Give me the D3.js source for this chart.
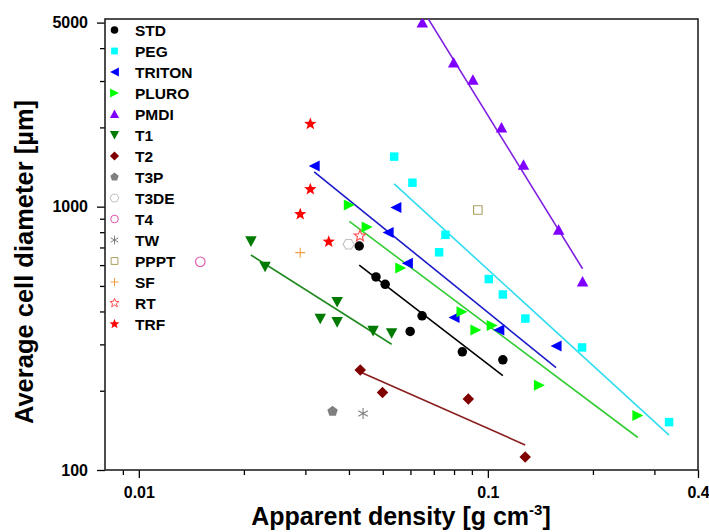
<!DOCTYPE html>
<html><head><meta charset="utf-8">
<script src="https://cdn.jsdelivr.net/npm/d3@7"></script>
<style>
body{margin:0;background:#fff}
svg{display:block}
text{font-family:"Liberation Sans",Arial,Helvetica,sans-serif;font-weight:bold;fill:#000}
</style>
</head><body>
<svg id="chart" width="709" height="532"></svg>
<script>
// ---------- data ----------
const stdX = [0.0428,0.0478,0.0508,0.0648,0.0599,0.0845,0.1104];
const stdY = [709,541,507,385,336,281,262];
const pegX = [0.0539,0.0608,0.0756,0.0725,0.1006,0.1104,0.1281,0.1861,0.3305];
const pegY = [1549,1233,782,671,531,464,376,292,152];
const tritonX = [0.0318,0.0545,0.0518,0.0588,0.0800,0.1075,0.1568];
const tritonY = [1428,993,798,610,379,340,296];
const pluroX = [0.0401,0.0451,0.0563,0.0843,0.0924,0.1029,0.1405,0.2690];
const pluroY = [1015,837,585,399,340,354,210,161];
const pmdiX = [0.0649,0.0798,0.0906,0.1094,0.1265,0.1595,0.1868];
const pmdiY = [4998,3523,3028,1995,1440,816,519];
const t1X = [0.02095,0.0230,0.0370,0.0331,0.0370,0.0469,0.0530];
const t1Y = [739,592,435,376,365,338,331];
const t2X = [0.0431,0.0499,0.0879,0.1279];
const t2Y = [240,197,186,112];
const t3pX = [0.0359];  const t3pY = [167];
const t3deX = [0.0399]; const t3deY = [720];
const t4X = [0.0150];   const t4Y = [618];
const twX = [0.0439];   const twY = [164];
const ppptX = [0.0936]; const ppptY = [971];
const sfX = [0.0290];   const sfY = [669];
const rtX = [0.0430];   const rtY = [774];
const trfX = [0.0310,0.0310,0.0290,0.0350];
const trfY = [2061,1164,936,736];

const seriesNames = ["STD","PEG","TRITON","PLURO","PMDI","T1","T2","T3P","T3DE","T4","TW","PPPT","SF","RT","TRF"];
const fittedSeries = ["STD","PEG","TRITON","PLURO","PMDI","T1","T2"];

const xMajorTicks = [0.01, 0.1, 0.4];
const xMinorTicks = [0.009,0.02,0.03,0.04,0.05,0.06,0.07,0.08,0.09,0.2,0.3];
const yMajorTicks = [100, 1000, 5000];
const yMinorTicks = [200,300,400,500,600,700,800,900,2000,3000,4000];
const xTickLabels = ["0.01","0.1","0.4"];
const yTickLabels = ["100","1000","5000"];

// ---------- custom marker shapes (size = nominal width in px) ----------
function poly(ctx, pts){ ctx.moveTo(pts[0][0],pts[0][1]); for(let i=1;i<pts.length;i++) ctx.lineTo(pts[i][0],pts[i][1]); ctx.closePath(); }
const shapes = {
  circle:{draw(c,s){const r=s/2;c.moveTo(r,0);c.arc(0,0,r,0,2*Math.PI);}},
  square:{draw(c,s){const h=s/2;poly(c,[[-h,-h],[h,-h],[h,h],[-h,h]]);}},
  triLeft:{draw(c,s){const h=s/2;poly(c,[[-h,0],[h,-h],[h,h]]);}},
  triRight:{draw(c,s){const h=s/2;poly(c,[[h,0],[-h,-h],[-h,h]]);}},
  triUp:{draw(c,s){const h=s/2;poly(c,[[0,-h],[h,h*0.85],[-h,h*0.85]]);}},
  triDown:{draw(c,s){const h=s/2;poly(c,[[0,h],[h,-h*0.85],[-h,-h*0.85]]);}},
  diamond:{draw(c,s){const h=s/2;poly(c,[[0,-h],[h,0],[0,h],[-h,0]]);}},
  pentagon:{draw(c,s){const r=s/2;const p=[];for(let i=0;i<5;i++){const a=-Math.PI/2+i*2*Math.PI/5;p.push([r*Math.cos(a),r*Math.sin(a)]);}poly(c,p);}},
  hexagon:{draw(c,s){const r=s/2;const p=[];for(let i=0;i<6;i++){const a=i*Math.PI/3;p.push([r*Math.cos(a),r*Math.sin(a)]);}poly(c,p);}},
  star:{draw(c,s){const R=s/2,r=R*0.42;const p=[];for(let i=0;i<10;i++){const a=-Math.PI/2+i*Math.PI/5;const q=i%2?r:R;p.push([q*Math.cos(a),q*Math.sin(a)]);}poly(c,p);}},
  plus:{draw(c,s){const h=s/2;c.moveTo(-h,0);c.lineTo(h,0);c.moveTo(0,-h);c.lineTo(0,h);}},
  asterisk:{draw(c,s){const h=s/2;c.moveTo(0,-h);c.lineTo(0,h);for(const a of [Math.PI/6,-Math.PI/6]){c.moveTo(-h*Math.cos(a),-h*Math.sin(a));c.lineTo(h*Math.cos(a),h*Math.sin(a));}}}
};

const series = [
  {name:"STD",   x:stdX,   y:stdY,   shape:"circle",  fill:"#000000", stroke:"none",    size:9.5, line:"#000000"},
  {name:"PEG",   x:pegX,   y:pegY,   shape:"square",  fill:"#00ffff", stroke:"none",    size:8.5, line:"#30dcf0"},
  {name:"TRITON",x:tritonX,y:tritonY,shape:"triLeft", fill:"#0000ff", stroke:"none",    size:11,  line:"#1a1ac8"},
  {name:"PLURO", x:pluroX, y:pluroY, shape:"triRight",fill:"#00ff00", stroke:"none",    size:11,  line:"#33cc33"},
  {name:"PMDI",  x:pmdiX,  y:pmdiY,  shape:"triUp",   fill:"#8000ff", stroke:"none",    size:11.5,line:"#8020e0"},
  {name:"T1",    x:t1X,    y:t1Y,    shape:"triDown", fill:"#007a00", stroke:"none",    size:11.5,line:"#1f8a1f"},
  {name:"T2",    x:t2X,    y:t2Y,    shape:"diamond", fill:"#800000", stroke:"none",    size:11.5,line:"#8a1e1e"},
  {name:"T3P",   x:t3pX,   y:t3pY,   shape:"pentagon",fill:"#808080", stroke:"none",    size:11},
  {name:"T3DE",  x:t3deX,  y:t3deY,  shape:"hexagon", fill:"none",    stroke:"#c0c0c0", size:11},
  {name:"T4",    x:t4X,    y:t4Y,    shape:"circle",  fill:"none",    stroke:"#e050a8", size:9.5},
  {name:"TW",    x:twX,    y:twY,    shape:"asterisk",fill:"none",    stroke:"#808080", size:11},
  {name:"PPPT",  x:ppptX,  y:ppptY,  shape:"square",  fill:"none",    stroke:"#a8a060", size:8.5},
  {name:"SF",    x:sfX,    y:sfY,    shape:"plus",    fill:"none",    stroke:"#f0a040", size:10},
  {name:"RT",    x:rtX,    y:rtY,    shape:"star",    fill:"none",    stroke:"#ff5050", size:12},
  {name:"TRF",   x:trfX,   y:trfY,   shape:"star",    fill:"#ff0000", stroke:"none",    size:13}
];

// ---------- layout ----------
const svg = d3.select("#chart");
const L=105, R=698, T=19, B=470;
const x = d3.scaleLog().domain([0.008, 0.4]).range([L, R]);
const y = d3.scaleLog().domain([100, 5160]).range([B, T]);

svg.append("defs").append("clipPath").attr("id","plotclip")
  .append("rect").attr("x",L).attr("y",T).attr("width",R-L).attr("height",B-T);

// axes
const axisStyle = g => { g.selectAll("path,line").attr("stroke","#000").attr("stroke-width",1.3); g.select(".domain").remove(); };

svg.append("g").attr("transform",`translate(0,${B})`)
  .call(d3.axisBottom(x).tickValues(xMinorTicks).tickSize(5).tickSizeOuter(0).tickFormat(""))
  .call(axisStyle);
svg.append("g").attr("transform",`translate(0,${B})`)
  .call(d3.axisBottom(x).tickValues(xMajorTicks).tickSize(8).tickSizeOuter(0).tickPadding(9)
        .tickFormat((d,i)=>xTickLabels[i]))
  .call(axisStyle)
  .selectAll("text").style("font-size","16px").attr("fill","#000");

svg.append("g").attr("transform",`translate(${L},0)`)
  .call(d3.axisLeft(y).tickValues(yMinorTicks).tickSize(5).tickSizeOuter(0).tickFormat(""))
  .call(axisStyle);
svg.append("g").attr("transform",`translate(${L},0)`)
  .call(d3.axisLeft(y).tickValues(yMajorTicks).tickSize(8).tickSizeOuter(0).tickPadding(9)
        .tickFormat((d,i)=>yTickLabels[i]))
  .call(axisStyle)
  .selectAll("text").style("font-size","16px").attr("fill","#000");

// frame
svg.append("rect").attr("x",L).attr("y",T).attr("width",R-L).attr("height",B-T)
  .attr("fill","none").attr("stroke","#222").attr("stroke-width",1.6);

// fit lines: least squares in log-log space over each series' x range
const plot = svg.append("g").attr("clip-path","url(#plotclip)");
series.filter(s=>fittedSeries.includes(s.name)).forEach(s=>{
  const lx = s.x.map(Math.log10), ly = s.y.map(Math.log10);
  const mx = d3.mean(lx), my = d3.mean(ly);
  let num=0, den=0;
  lx.forEach((v,i)=>{num+=(v-mx)*(ly[i]-my); den+=(v-mx)*(v-mx);});
  const b = num/den, a = my - b*mx;
  const x0 = d3.min(s.x), x1 = d3.max(s.x);
  const pts = [x0,x1].map(v=>[v, Math.pow(10, a + b*Math.log10(v))]);
  plot.append("path")
    .attr("d", d3.line().x(d=>x(d[0])).y(d=>y(d[1]))(pts))
    .attr("fill","none").attr("stroke",s.line).attr("stroke-width",1.6);
});

// markers
series.forEach(s=>{
  const sym = d3.symbol().type(shapes[s.shape]).size(s.size);
  const isLine = s.shape==="plus"||s.shape==="asterisk";
  plot.selectAll(null).data(s.x.map((v,i)=>[v,s.y[i]])).join("path")
    .attr("transform",d=>`translate(${x(d[0])},${y(d[1])})`)
    .attr("d",sym())
    .attr("fill",s.fill)
    .attr("stroke",s.stroke)
    .attr("stroke-width",isLine?1.1:1.1);
});

// legend
const lg = svg.append("g");
series.forEach((s,i)=>{
  const cy = 30 + i*21;
  lg.append("path")
    .attr("transform",`translate(114.5,${cy})`)
    .attr("d",d3.symbol().type(shapes[s.shape]).size(s.size*0.8)())
    .attr("fill",s.fill).attr("stroke",s.stroke).attr("stroke-width",1);
  lg.append("text").attr("x",135).attr("y",cy+5.6)
    .style("font-size","15.5px").text(seriesNames[i]);
});

// axis titles
svg.append("text").attr("transform","translate(33,262) rotate(-90)")
  .attr("text-anchor","middle").style("font-size","25.5px")
  .text("Average cell diameter [µm]");
const xt = svg.append("text").attr("x",401).attr("y",525)
  .attr("text-anchor","middle").style("font-size","25px");
xt.append("tspan").text("Apparent density [g cm");
xt.append("tspan").attr("dy",-10).style("font-size","15px").text("-3");
xt.append("tspan").attr("dy",10).text("]");
</script>
</body></html>
